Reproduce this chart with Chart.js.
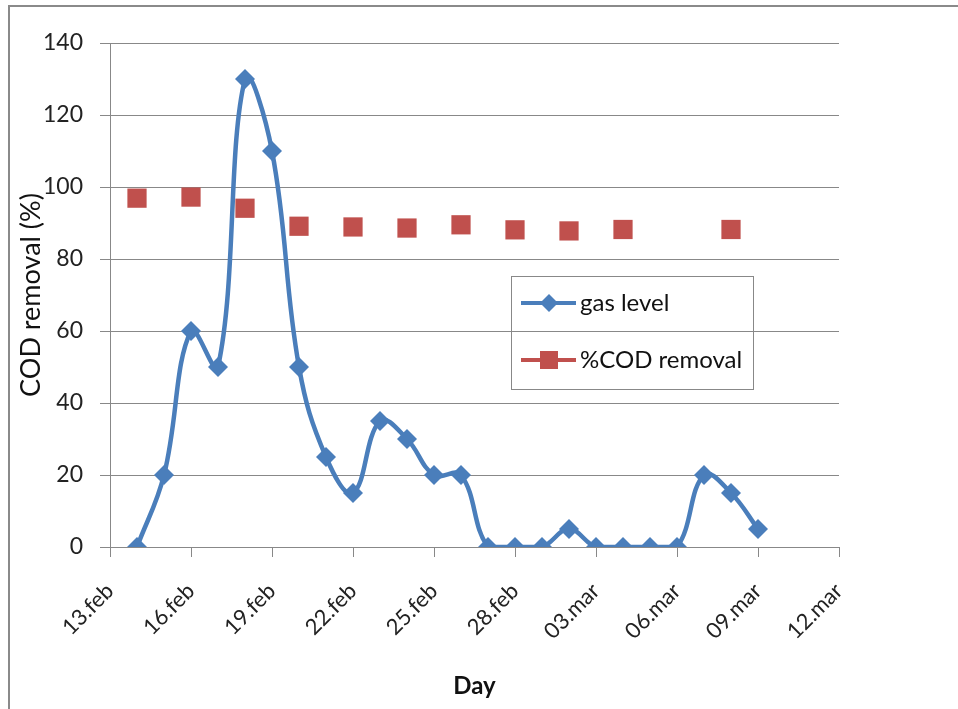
<!DOCTYPE html>
<html>
<head>
<meta charset="utf-8">
<script src="https://cdn.jsdelivr.net/npm/chart.js@4"></script>
<style>
  html, body { margin: 0; padding: 0; background: #fff; }
  #wrap { position: relative; width: 958px; height: 709px; }
  #frame { position: absolute; left: 8px; top: 5px; width: 960px; height: 720px;
           border-left: 2px solid #8a8a8a; border-top: 2px solid #8a8a8a; }
  canvas { position: absolute; left: 0; top: 0; }
</style>
</head>
<body>
<div id="wrap">
  <div id="frame"></div>
  <canvas id="codChart" width="958" height="709"></canvas>
</div>
<script>
// dates
const gasDates = ["14.feb", "15.feb", "16.feb", "17.feb", "18.feb", "19.feb", "20.feb", "21.feb",
  "22.feb", "23.feb", "24.feb", "25.feb", "26.feb", "27.feb", "28.feb", "01.mar",
  "02.mar", "03.mar", "04.mar", "05.mar", "06.mar", "07.mar", "08.mar", "09.mar"];
const gasLevel = [0, 20, 60, 50, 130, 110, 50, 25, 15, 35, 30, 20, 20, 0, 0, 0, 5, 0, 0, 0, 0, 20, 15, 5];

const codDates = ["14.feb", "16.feb", "18.feb", "20.feb", "22.feb", "24.feb", "26.feb",
  "28.feb", "02.mar", "04.mar", "08.mar"];
const codRemoval = [96.9, 97.2, 94.1, 89.1, 88.9, 88.6, 89.5, 88.1, 87.8, 88.2, 88.2];

const tickLabels = ["13.feb", "16.feb", "19.feb", "22.feb", "25.feb", "28.feb", "03.mar", "06.mar", "09.mar", "12.mar"];

const BLUE = "#4a7ebb";
const RED = "#c0504d";
const GRID = "#888888";
const FONT = "Lato, 'Open Sans', sans-serif";

// days after 13.feb (february has 28 days here)
function dayNo(label) {
  const parts = label.split(".");
  const d = parseInt(parts[0], 10);
  return parts[1] === "feb" ? d - 13 : d + 15;
}

const gasPoints = gasDates.map((d, i) => ({x: dayNo(d), y: gasLevel[i]}));
const codPoints = codDates.map((d, i) => ({x: dayNo(d), y: codRemoval[i]}));

// legend box drawn inside the plot, like the original
const boxLegend = {
  id: 'boxLegend',
  afterDraw(chart) {
    const ctx = chart.ctx;
    const x0 = 511, y0 = 276, w = 242, h = 113;
    ctx.save();
    ctx.strokeStyle = GRID;
    ctx.lineWidth = 1;
    ctx.strokeRect(x0 + 0.5, y0 + 0.5, w, h);
    const rows = [303, 360];
    chart.data.datasets.forEach((ds, i) => {
      const y = rows[i];
      ctx.strokeStyle = ds.borderColor;
      ctx.lineWidth = 4;
      ctx.beginPath();
      ctx.moveTo(521, y);
      ctx.lineTo(576, y);
      ctx.stroke();
      ctx.fillStyle = ds.pointBackgroundColor;
      if (ds.pointStyle === 'rectRot') {
        ctx.beginPath();
        ctx.moveTo(549, y - 9);
        ctx.lineTo(558, y);
        ctx.lineTo(549, y + 9);
        ctx.lineTo(540, y);
        ctx.closePath();
        ctx.fill();
      } else {
        ctx.fillRect(540, y - 9, 18, 18);
      }
      ctx.fillStyle = "#111";
      ctx.font = "24px " + FONT;
      ctx.textBaseline = "middle";
      ctx.textAlign = "left";
      ctx.fillText(ds.label, 580, y);
    });
    ctx.restore();
  }
};

const CHART = document.getElementById('codChart');

let codChart = new Chart(CHART, {
  type: 'line',
  data: {
    datasets: [
      {
        label: "gas level",
        data: gasPoints,
        borderColor: BLUE,
        backgroundColor: BLUE,
        borderWidth: 4.5,
        tension: 0.4,
        fill: false,
        pointStyle: 'rectRot',
        pointRadius: 10,
        pointBackgroundColor: BLUE,
        pointBorderColor: BLUE,
        pointBorderWidth: 0,
      },
      {
        label: "%COD removal",
        data: codPoints,
        borderColor: RED,
        backgroundColor: RED,
        showLine: false,
        pointStyle: 'rect',
        pointRadius: 13.6,
        pointBackgroundColor: RED,
        pointBorderColor: RED,
        pointBorderWidth: 0,
      }
    ]
  },
  options: {
    responsive: false,
    animation: false,
    layout: { padding: { left: 10, top: 43, right: 119, bottom: 0 } },
    plugins: { legend: { display: false }, tooltip: { enabled: false } },
    scales: {
      x: {
        type: 'linear',
        min: 0,
        max: 27,
        afterFit(scale) { scale.height = 709 - 547; },
        afterBuildTicks(scale) {
          scale.ticks = tickLabels.map(t => ({value: dayNo(t)}));
        },
        ticks: {
          callback: (v) => tickLabels.find(t => dayNo(t) === v) || "",
          minRotation: 45,
          maxRotation: 45,
          padding: 21,
          color: "#222",
          font: { family: FONT, size: 22 },
        },
        grid: { drawOnChartArea: false, drawTicks: true, tickLength: 10, color: GRID, lineWidth: 1 },
        border: { color: GRID, width: 1 },
        title: {
          display: true,
          text: "Day",
          color: "#111",
          font: { family: FONT, size: 24, weight: 'bold' },
          padding: { top: 0, bottom: 8 },
        }
      },
      y: {
        min: 0,
        max: 140,
        afterFit(scale) { scale.width = 110 - 10; },
        ticks: {
          stepSize: 20,
          padding: 17,
          color: "#222",
          font: { family: FONT, size: 23 },
        },
        grid: { color: GRID, lineWidth: 1, tickLength: 10 },
        border: { color: GRID, width: 1 },
        title: {
          display: true,
          text: "COD removal (%)",
          color: "#111",
          font: { family: FONT, size: 27 },
          padding: { top: 5, bottom: 0 },
        }
      }
    }
  },
  plugins: [boxLegend]
});
</script>
</body>
</html>
